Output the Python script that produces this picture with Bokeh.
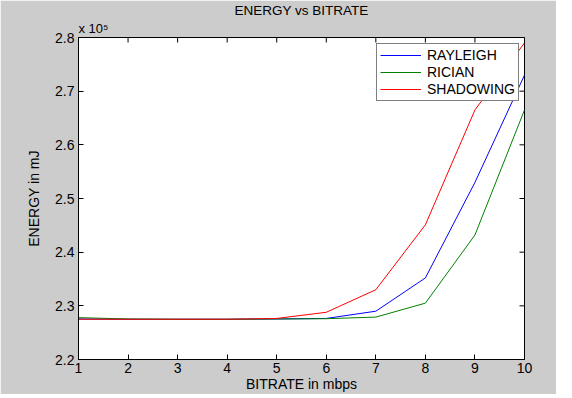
import math
from bokeh.plotting import figure
from bokeh.models import (Range1d, FixedTicker, PrintfTickFormatter,
                          Legend, LegendItem, Title)
from bokeh.embed import file_html
from bokeh.resources import INLINE

bitrate = [1, 2, 3, 4, 5, 6, 7, 8, 9, 10]
rayleigh = [2.2755, 2.275, 2.275, 2.275, 2.2755, 2.2765, 2.290, 2.352, 2.530, 2.730]
rician = [2.278, 2.2755, 2.275, 2.275, 2.2755, 2.276, 2.279, 2.305, 2.432, 2.665]
shadowing = [2.275, 2.275, 2.275, 2.275, 2.2765, 2.288, 2.330, 2.451, 2.665, 2.790]
x_ticks = [1, 2, 3, 4, 5, 6, 7, 8, 9, 10]
y_ticks = [2.2, 2.3, 2.4, 2.5, 2.6, 2.7, 2.8]

FONT = "Liberation Sans"

p = figure(frame_width=446, frame_height=322, output_backend="svg", toolbar_location=None,
           x_range=Range1d(x_ticks[0], x_ticks[-1]), y_range=Range1d(y_ticks[0], y_ticks[-1]),
           background_fill_color="white", border_fill_color="#cccccc",
           min_border_left=78, min_border_right=32, min_border_top=36, min_border_bottom=24,
           title="ENERGY vs BITRATE")
p.title.align = "center"
p.title.text_font = FONT
p.title.text_font_size = "13.5px"
p.title.text_font_style = "normal"
p.title.text_color = "black"
p.title.standoff = 0

# exponent note above the top-left corner of the axes
p.add_layout(Title(text="x 10\u2075", align="left", text_font=FONT, text_font_size="13px",
                   text_font_style="normal", text_color="black", standoff=3), "above")

p.grid.visible = False
p.outline_line_color = "black"

for ax in p.xaxis:
    ax.ticker = FixedTicker(ticks=x_ticks)
    ax.axis_label = "BITRATE in mbps"
    ax.major_label_standoff = 3
    ax.axis_label_standoff = 0
for ax in p.yaxis:
    ax.ticker = FixedTicker(ticks=y_ticks)
    ax.formatter = PrintfTickFormatter(format="%.1f")
    ax.axis_label = "ENERGY in mJ"
    ax.major_label_standoff = 4
    ax.axis_label_standoff = 10

for ax in p.xaxis + p.yaxis:
    ax.major_tick_in = 5
    ax.major_tick_out = 0
    ax.minor_tick_line_color = None
    ax.axis_line_color = "black"
    ax.major_tick_line_color = "black"
    ax.major_label_text_font = FONT
    ax.major_label_text_font_size = "14px"
    ax.major_label_text_color = "black"
    ax.axis_label_text_font = FONT
    ax.axis_label_text_font_size = "14px"
    ax.axis_label_text_font_style = "normal"
    ax.axis_label_text_color = "black"

# inward ticks on the top and right edges of the box (clipped halves of dash markers)
p.scatter(x_ticks, [y_ticks[-1]] * len(x_ticks), marker="dash", angle=math.pi / 2,
          size=10, line_color="black", line_width=1)
p.scatter([x_ticks[-1]] * len(y_ticks), y_ticks, marker="dash",
          size=10, line_color="black", line_width=1)

r1 = p.line(bitrate, rayleigh, line_color="#0000ff", line_width=1)
r2 = p.line(bitrate, rician, line_color="#008000", line_width=1)
r3 = p.line(bitrate, shadowing, line_color="#ff0000", line_width=1)

legend = Legend(items=[LegendItem(label="RAYLEIGH", renderers=[r1]),
                       LegendItem(label="RICIAN", renderers=[r2]),
                       LegendItem(label="SHADOWING", renderers=[r3])],
                location=(298, 258), glyph_width=41, glyph_height=16, label_height=16,
                label_standoff=6, padding=3, spacing=1, margin=0,
                label_text_font=FONT, label_text_font_size="14px",
                label_text_color="black",
                border_line_color="black", background_fill_alpha=1.0)
p.add_layout(legend, "center")

open("out.html", "w").write(file_html(p, INLINE))
